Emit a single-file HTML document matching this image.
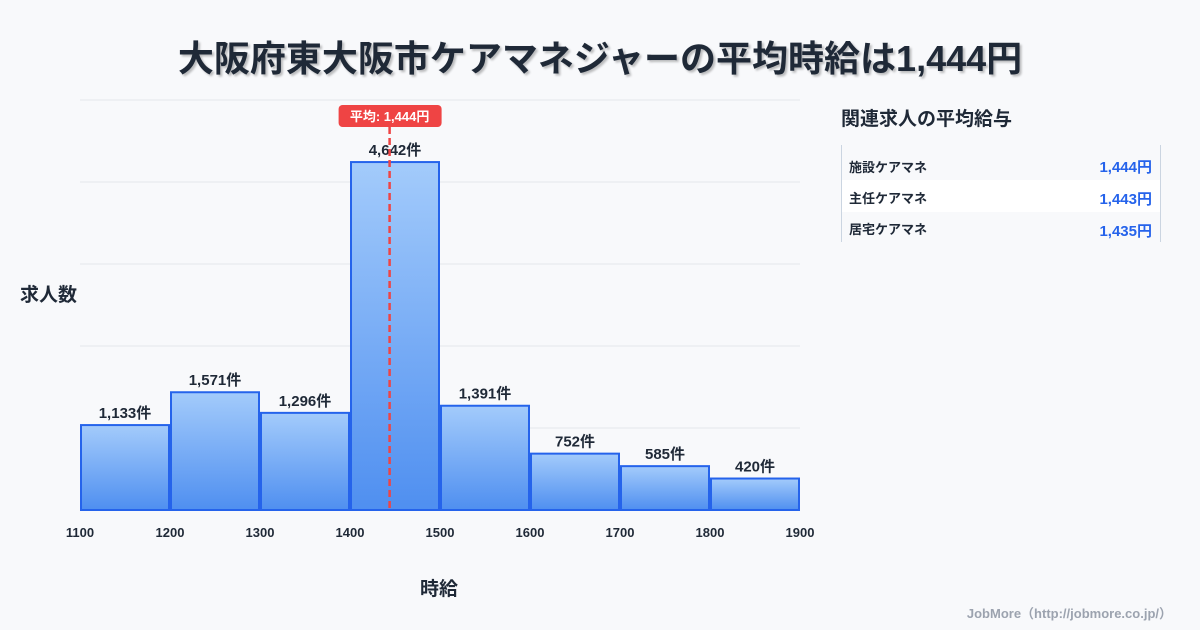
<!DOCTYPE html>
<html><head><meta charset="utf-8"><style>
body{margin:0;width:1200px;height:630px;background:#f8f9fb;font-family:"Liberation Sans","Noto Sans CJK JP",sans-serif;overflow:hidden;position:relative;color:#1f2937}
.abs{position:absolute}
</style></head><body>
<div class="abs" style="left:0;width:1200px;top:30px;text-align:center;font-size:36px;font-weight:bold;color:#1f2937;text-shadow:2px 2px 2px rgba(0,0,0,0.25)">大阪府東大阪市ケアマネジャーの平均時給は1,444円</div>
<div class="abs" style="left:20px;top:280px;font-size:19px;font-weight:bold">求人数</div>
<div class="abs" style="left:420px;top:574px;font-size:19px;font-weight:bold">時給</div>
<svg class="abs" style="left:0;top:0" width="1200" height="630" id="chart">
<defs><linearGradient id="g" x1="0" y1="0" x2="0" y2="1"><stop offset="0" stop-color="#a3cbfb"/><stop offset="1" stop-color="#4f8ff0"/></linearGradient></defs>
</svg>
<div class="abs" style="left:841px;top:104px;font-size:19px;font-weight:bold">関連求人の平均給与</div>
<div class="abs" style="left:841px;top:145px;width:318px;height:97px;border-left:1px solid #cbd5e1;border-right:1px solid #cbd5e1">
 <div style="position:absolute;top:3px;height:32px;width:100%;font-size:13px;font-weight:bold"><span style="position:absolute;left:7px;top:9px">施設ケアマネ</span><span style="position:absolute;right:8px;top:8px;color:#2563eb;font-size:15px">1,444円</span></div>
 <div style="position:absolute;top:35px;height:32px;width:100%;background:#fff;font-size:13px;font-weight:bold"><span style="position:absolute;left:7px;top:8px">主任ケアマネ</span><span style="position:absolute;right:8px;top:8px;color:#2563eb;font-size:15px">1,443円</span></div>
 <div style="position:absolute;top:67px;height:32px;width:100%;font-size:13px;font-weight:bold"><span style="position:absolute;left:7px;top:7px">居宅ケアマネ</span><span style="position:absolute;right:8px;top:8px;color:#2563eb;font-size:15px">1,435円</span></div>
</div>
<div class="abs" style="right:28px;top:603px;font-size:13px;font-weight:bold;color:#9ca3af">JobMore（http://jobmore.co.jp/）</div>
<script>
const binStarts=[1100,1200,1300,1400,1500,1600,1700,1800];
const counts=[1133,1571,1296,4642,1391,752,585,420];
const xTicks=[1100,1200,1300,1400,1500,1600,1700,1800,1900];
const meanValue=1444;
const meanLabel="平均: 1,444円";
const svg=document.getElementById('chart');
const NS='http://www.w3.org/2000/svg';
const X0=80,X1=800,Y0=510,Y1=100,xmin=1100,xmax=1900,ymax=5470;
const xs=v=>X0+(v-xmin)/(xmax-xmin)*(X1-X0);
const ys=v=>Y0-v/ymax*(Y0-Y1);
function mk(t,a){const e=document.createElementNS(NS,t);for(const k in a)e.setAttribute(k,a[k]);svg.appendChild(e);return e;}
for(let i=0;i<=5;i++){const y=Y1+i*(Y0-Y1)/5;
 const l=mk('line',{x1:X0,x2:X1,y1:y,y2:y,stroke:'#e5e7eb','stroke-width':1});
 
 }
binStarts.forEach((b,i)=>{
 const x=xs(b)+1,w=xs(b+100)-xs(b)-2,y=ys(counts[i]);
 const r=mk('rect',{x:x,y:y,width:w,height:Y0-y,fill:'url(#g)',stroke:'#2563eb','stroke-width':2});
 
 
 const t=mk('text',{x:x+w/2,y:y-7,'text-anchor':'middle','font-size':15,'font-weight':'bold',fill:'#1f2937'});
 t.textContent=counts[i].toLocaleString('en-US')+'件';
 
 
});
xTicks.forEach(v=>{const t=mk('text',{x:xs(v),y:537,'text-anchor':'middle','font-size':13,'font-weight':'bold',fill:'#1f2937'});
 t.textContent=v;
 
 });
const mx=xs(meanValue);
const ml=mk('line',{x1:mx,x2:mx,y1:127,y2:Y0,stroke:'#ef4444','stroke-width':2.5,'stroke-dasharray':'7,4'});


const br=mk('rect',{x:mx-51,y:105,width:103,height:22,rx:4,fill:'#ef4444'});


const bt=mk('text',{x:mx,y:121,'text-anchor':'middle','font-size':13,'font-weight':'bold',fill:'#fff'});
bt.textContent=meanLabel;


</script>
</body></html>
